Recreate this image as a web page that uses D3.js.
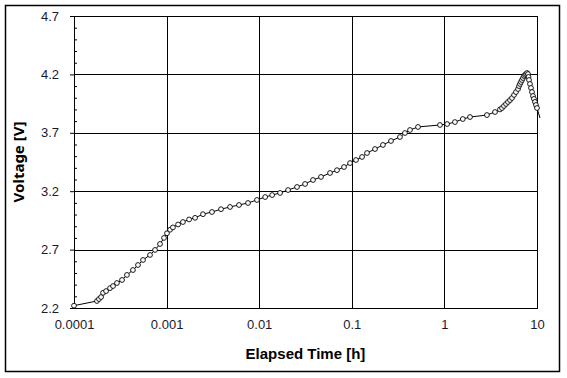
<!DOCTYPE html>
<html>
<head>
<meta charset="utf-8">
<script src="https://cdn.jsdelivr.net/npm/d3@7/dist/d3.min.js"></script>
<style>
  body { margin: 0; background: #fff; }
  svg { display: block; font-family: "Noto Sans", "DejaVu Sans", sans-serif; }
  .tick text { font-size: 13px; fill: #1a1a2e; }
  .axis-label { font-size: 15px; font-weight: bold; fill: #000; }
</style>
</head>
<body>
<svg width="567" height="378"></svg>
<script>

// elapsed time [h]
const times = [
  0.0001, 0.000177, 0.000186, 0.000196, 0.000206, 0.000222, 0.000245, 0.000264,
  0.000291, 0.00033, 0.000373, 0.000433, 0.000491, 0.000556, 0.000662, 0.00075,
  0.000849, 0.000938, 0.00101, 0.00109, 0.00117, 0.00133, 0.0015, 0.00175,
  0.00203, 0.00247, 0.00309, 0.00387, 0.00484, 0.00605, 0.00757, 0.00946,
  0.0116, 0.0138, 0.0168, 0.0205, 0.0256, 0.0313, 0.0381, 0.0465,
  0.0582, 0.0692, 0.0824, 0.0957, 0.111, 0.129, 0.146, 0.178,
  0.217, 0.265, 0.331, 0.375, 0.425, 0.519, 0.896, 1.07,
  1.30, 1.58, 1.89, 2.88, 3.52, 3.98, 4.19, 4.40,
  4.63, 4.86, 5.11, 5.37, 5.65, 5.93, 6.24, 6.39,
  6.55, 6.71, 6.88, 7.06, 7.24, 7.42, 7.60, 7.80,
  8.00, 8.10, 8.20, 8.40, 8.61, 8.83, 9.05, 9.27,
  9.51, 9.75, 10.0, 10.77
];

// voltage [V]
const voltages = [
  2.22, 2.26, 2.277, 2.294, 2.33, 2.345, 2.37, 2.388,
  2.414, 2.44, 2.483, 2.525, 2.568, 2.611, 2.654, 2.697,
  2.748, 2.80, 2.84, 2.87, 2.89, 2.915, 2.936, 2.958,
  2.972, 3.003, 3.022, 3.046, 3.065, 3.082, 3.099, 3.125,
  3.15, 3.167, 3.185, 3.21, 3.236, 3.262, 3.296, 3.322,
  3.356, 3.38, 3.407, 3.441, 3.467, 3.493, 3.527, 3.561,
  3.596, 3.63, 3.664, 3.698, 3.724, 3.75, 3.767, 3.775,
  3.792, 3.818, 3.835, 3.852, 3.878, 3.90, 3.912, 3.93,
  3.947, 3.964, 3.98, 3.998, 4.024, 4.049, 4.075, 4.10,
  4.118, 4.135, 4.152, 4.169, 4.186, 4.195, 4.203, 4.212,
  4.203, 4.178, 4.152, 4.118, 4.084, 4.049, 4.015, 3.99,
  3.964, 3.938, 3.912, 3.827
];

const xTicks = [0.0001, 0.001, 0.01, 0.1, 1, 10];
const yTicks = [2.2, 2.7, 3.2, 3.7, 4.2, 4.7];
const yMinorTicks = [2.3, 2.4, 2.5, 2.6, 2.8, 2.9, 3.0, 3.1, 3.3, 3.4, 3.5, 3.6,
                     3.8, 3.9, 4.0, 4.1, 4.3, 4.4, 4.5, 4.6];

function whenLoaded(){

    const svg = d3.select('svg');
    const width = +svg.attr('width');
    const height = +svg.attr('height');

    const data = times.map((t, i) => ({time: t, voltage: voltages[i]}));

    const margin = {top:16, right:30, bottom:70, left:74};
    const innerWidth = width - margin.left - margin.right;
    const innerHeight = height - margin.top - margin.bottom;

    // outer frame
    svg.append('rect')
    .attr('x', 5.5).attr('y', 5.5)
    .attr('width', 554).attr('height', 366)
    .attr('fill', 'none')
    .attr('stroke', '#000')
    .attr('stroke-width', 1.5);

    const xScale = d3.scaleLog()
    .domain([0.0001, 10])
    .range([0, innerWidth]);

    const yScale = d3.scaleLinear()
    .domain([2.2, 4.7])
    .range([innerHeight, 0]);

    const g = svg.append('g')
    .attr('transform', `translate(${margin.left},${margin.top})`);

    // grid
    g.append('g')
    .selectAll('line.vgrid').data(xTicks)
    .enter().append('line')
    .attr('x1', d => Math.round(xScale(d)) + 0.5)
    .attr('x2', d => Math.round(xScale(d)) + 0.5)
    .attr('y1', 0).attr('y2', innerHeight)
    .attr('stroke', '#000');

    g.append('g')
    .selectAll('line.hgrid').data(yTicks)
    .enter().append('line')
    .attr('y1', d => Math.round(yScale(d)) + 0.5)
    .attr('y2', d => Math.round(yScale(d)) + 0.5)
    .attr('x1', 0).attr('x2', innerWidth)
    .attr('stroke', '#000');

    g.append('rect')
    .attr('x', 0.5).attr('y', 0.5)
    .attr('width', innerWidth).attr('height', innerHeight)
    .attr('fill', 'none')
    .attr('stroke', '#000');

    // y axis: major ticks outward, minor ticks inward
    const yAxis = d3.axisLeft(yScale)
    .tickValues(yTicks)
    .tickFormat(d3.format('.1f'))
    .tickSize(4)
    .tickPadding(11);

    const yAxisG = g.append('g').call(yAxis);
    yAxisG.select('.domain').remove();
    yAxisG.selectAll('.tick line').attr('stroke', '#000');

    const yMinorG = g.append('g').call(
        d3.axisRight(yScale).tickValues(yMinorTicks).tickSize(3).tickFormat('')
    );
    yMinorG.select('.domain').remove();

    // x axis labels
    const xAxis = d3.axisBottom(xScale)
    .tickValues(xTicks)
    .tickFormat(d => String(d))
    .tickSize(0)
    .tickPadding(12);

    const xAxisG = g.append('g').call(xAxis)
    .attr('transform', `translate(0,${innerHeight})`);
    xAxisG.select('.domain').remove();

    xAxisG.append('text')
    .attr('class', 'axis-label')
    .attr('x', innerWidth / 2)
    .attr('y', 51)
    .attr('text-anchor', 'middle')
    .text('Elapsed Time [h]');

    g.append('text')
    .attr('class', 'axis-label')
    .attr('transform', `translate(${24 - margin.left},${innerHeight / 2}) rotate(-90)`)
    .attr('text-anchor', 'middle')
    .text('Voltage [V]');

    // curve
    const line = d3.line()
    .x(d => xScale(d.time))
    .y(d => yScale(d.voltage));

    g.append('path')
    .datum(data)
    .attr('d', line)
    .attr('fill', 'none')
    .attr('stroke', '#000')
    .attr('stroke-width', 1);

    // markers (the curve runs a little past the last marker)
    g.selectAll('circle').data(data.filter(d => d.time <= 10))
    .enter()
    .append('circle')
    .attr('cx', d => xScale(d.time))
    .attr('cy', d => yScale(d.voltage))
    .attr('r', 2.4)
    .attr('fill', '#fff')
    .attr('stroke', '#000')
    .attr('stroke-width', 0.9);
}

window.onload = whenLoaded;
</script>
</body>
</html>
